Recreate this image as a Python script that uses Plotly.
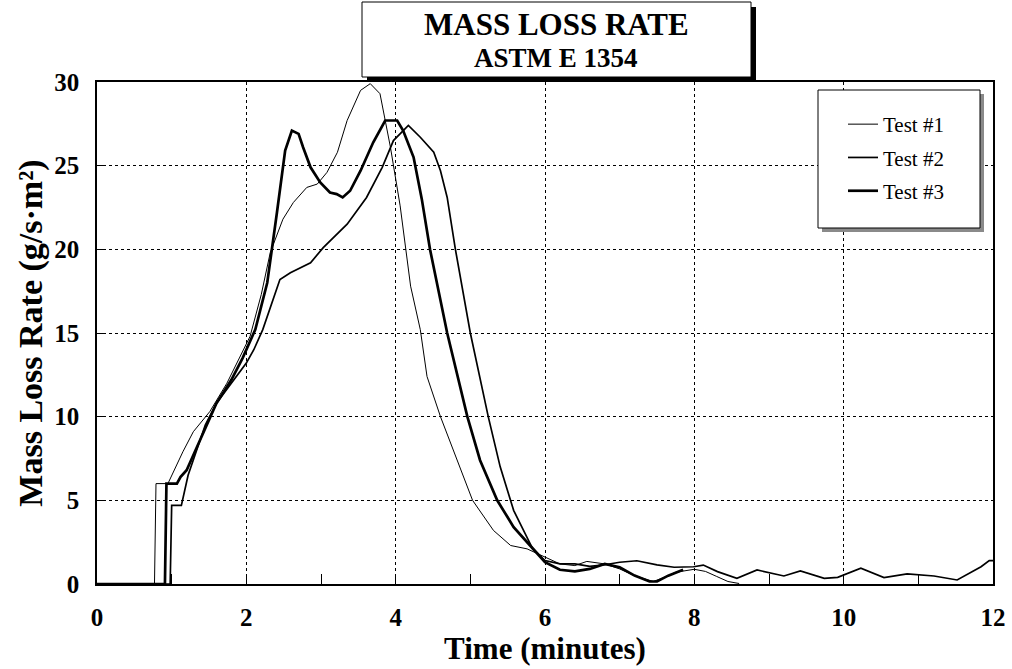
import plotly.graph_objects as go

# ---- data ----
t1_time = [0, 0.77, 0.79, 0.95, 1.15, 1.29, 1.51, 1.74, 2.05, 2.2, 2.32, 2.49, 2.63, 2.81, 2.95,
           3.08, 3.22, 3.35, 3.53, 3.66, 3.79, 3.93, 4.06, 4.2, 4.33, 4.42, 4.6, 4.82, 5.03, 5.31,
           5.54, 5.76, 6.0, 6.2, 6.4, 6.56, 6.8, 7.0, 7.2, 7.45, 7.6, 7.75, 8.0, 8.15, 8.3, 8.45, 8.6]
t1_rate = [0, 0, 6.0, 6.0, 7.9, 9.1, 10.3, 12.0, 14.8, 17.3, 19.8, 21.8, 22.8, 23.7, 23.9,
           24.6, 25.8, 27.7, 29.5, 29.9, 29.3, 26.1, 22.6, 17.8, 15.2, 12.4, 10.0, 7.4, 5.0, 3.2,
           2.3, 2.1, 1.6, 1.2, 1.1, 1.35, 1.2, 0.9, 0.5, 0.15, 0.4, 0.7, 0.88, 0.75, 0.45, 0.15, 0.03]

t2_time = [0, 0.98, 1.0, 1.13, 1.22, 1.3, 1.45, 1.6, 1.8, 2.0, 2.1, 2.22, 2.45, 2.59, 2.86, 3.03,
           3.35, 3.61, 3.82, 3.97, 4.17, 4.33, 4.51, 4.60, 4.69, 4.80, 5.0, 5.24, 5.40, 5.58, 5.83,
           6.0, 6.2, 6.4, 6.6, 6.8, 7.0, 7.23, 7.5, 7.73, 7.99, 8.12, 8.31, 8.57, 8.84, 9.2, 9.42,
           9.74, 9.92, 10.23, 10.54, 10.85, 11.21, 11.52, 11.84, 11.95, 12.0]
t2_rate = [0, 0, 4.7, 4.7, 6.5, 7.5, 9.5, 10.8, 12.0, 13.2, 14.0, 15.2, 18.2, 18.6, 19.2, 20.1,
           21.5, 23.1, 24.9, 26.5, 27.4, 26.7, 25.8, 24.7, 23.1, 20.0, 15.0, 10.0, 7.0, 4.4, 2.15,
           1.4, 1.2, 1.2, 1.05, 1.15, 1.3, 1.39, 1.14, 1.0, 1.03, 1.13, 0.74, 0.34, 0.84, 0.48, 0.78,
           0.34, 0.40, 0.94, 0.38, 0.60, 0.48, 0.24, 1.03, 1.4, 1.4]

t3_time = [0, 0.91, 0.93, 1.07, 1.12, 1.2, 1.3, 1.45, 1.6, 1.8, 1.95, 2.12, 2.28, 2.41, 2.52, 2.61,
           2.70, 2.76, 2.86, 2.99, 3.12, 3.21, 3.29, 3.39, 3.53, 3.70, 3.86, 4.02, 4.10, 4.24, 4.35,
           4.46, 4.69, 4.96, 5.13, 5.36, 5.58, 5.83, 6.0, 6.2, 6.4, 6.6, 6.8, 7.0, 7.2, 7.4, 7.5,
           7.65, 7.85]
t3_rate = [0, 0, 6.0, 6.0, 6.4, 6.8, 7.8, 9.3, 10.8, 12.2, 13.5, 15.2, 18.0, 22.2, 25.9, 27.1,
           26.9, 26.1, 24.9, 24.0, 23.4, 23.3, 23.1, 23.5, 24.7, 26.4, 27.7, 27.7, 27.1, 25.5, 23.0,
           20.0, 15.0, 10.0, 7.4, 5.0, 3.4, 2.15, 1.3, 0.85, 0.75, 0.9, 1.2, 1.0, 0.5, 0.15, 0.15,
           0.5, 0.85]

series_names = ["Test #1", "Test #2", "Test #3"]
x_ticks = [0, 2, 4, 6, 8, 10, 12]
y_ticks = [0, 5, 10, 15, 20, 25, 30]

FONT = "Liberation Serif"

fig = go.Figure()
for name, xs, ys, w in zip(series_names, [t1_time, t2_time, t3_time],
                           [t1_rate, t2_rate, t3_rate], [1.0, 1.7, 2.7]):
    fig.add_trace(go.Scatter(x=xs, y=ys, mode="lines", name=name, legendgroup=name,
                             line=dict(color="black", width=w, shape="linear")))

# plot area in px: x 97..993, y 82..584
L, R, T, B = 97, 993, 82, 584
def px(x):
    return (x - L) / (R - L)
def py(y):
    return (B - y) / (B - T)

shapes = [
    # title box shadow + box
    dict(type="rect", xref="paper", yref="paper", x0=px(367), x1=px(756), y0=py(82), y1=py(7),
         fillcolor="black", line=dict(width=0), layer="above"),
    dict(type="rect", xref="paper", yref="paper", x0=px(362), x1=px(751), y0=py(77), y1=py(2),
         fillcolor="white", line=dict(color="black", width=1), layer="above"),
    # legend box shadow + box
    dict(type="rect", xref="paper", yref="paper", x0=px(822), x1=px(984), y0=py(232), y1=py(94),
         fillcolor="#8a8a8a", line=dict(width=0), layer="above"),
    dict(type="rect", xref="paper", yref="paper", x0=px(818), x1=px(980), y0=py(228), y1=py(90),
         fillcolor="white", line=dict(color="black", width=1), layer="above"),
]

annotations = [
    dict(text="<b>MASS LOSS RATE</b>", xref="paper", yref="paper", x=px(556), y=py(24),
         showarrow=False, font=dict(family=FONT, size=31, color="black"), xanchor="center", yanchor="middle"),
    dict(text="<b>ASTM E 1354</b>", xref="paper", yref="paper", x=px(556), y=py(58),
         showarrow=False, font=dict(family=FONT, size=27, color="black"), xanchor="center", yanchor="middle"),
]

fig.update_layout(
    width=1012, height=669,
    margin=dict(l=L, r=1012 - R, t=T, b=669 - B, autoexpand=False),
    paper_bgcolor="white", plot_bgcolor="white",
    font=dict(family=FONT, color="black"),
    shapes=shapes, annotations=annotations,
    showlegend=True,
    legend=dict(x=px(843), y=py(104), xanchor="left", yanchor="top",
                bgcolor="rgba(0,0,0,0)", borderwidth=0,
                font=dict(family=FONT, size=21, color="black"),
                traceorder="grouped", tracegroupgap=3),
    xaxis=dict(range=[0, 12], tickvals=x_ticks, ticktext=[str(v) for v in x_ticks],
               showgrid=True, gridcolor="black", griddash="dot", gridwidth=1,
               showline=True, linecolor="black", linewidth=1.5, mirror=True,
               ticks="inside", ticklen=10, tickcolor="black",
               minor=dict(dtick=1, ticks="inside", ticklen=10, tickcolor="black", showgrid=False),
               zeroline=False, ticklabelstandoff=10, automargin=False,
               tickfont=dict(family=FONT, size=25, color="black", weight="bold"),
               title=dict(text="<b>Time (minutes)</b>", font=dict(family=FONT, size=31, color="black"),
                          standoff=8)),
    yaxis=dict(range=[0, 30], tickvals=y_ticks, ticktext=[str(v) for v in y_ticks],
               showgrid=True, gridcolor="black", griddash="dot", gridwidth=1,
               showline=True, linecolor="black", linewidth=1.5, mirror=True,
               ticks="inside", ticklen=6, tickcolor="black",
               zeroline=False, ticklabelstandoff=11, automargin=False,
               tickfont=dict(family=FONT, size=25, color="black", weight="bold"),
               title=dict(text="<b>Mass Loss Rate (g/s·m²)</b>", font=dict(family=FONT, size=34, color="black"),
                          standoff=1)),
)

fig.write_html("out.html", config={"displayModeBar": False},
               post_script="document.body.style.margin='0';")
